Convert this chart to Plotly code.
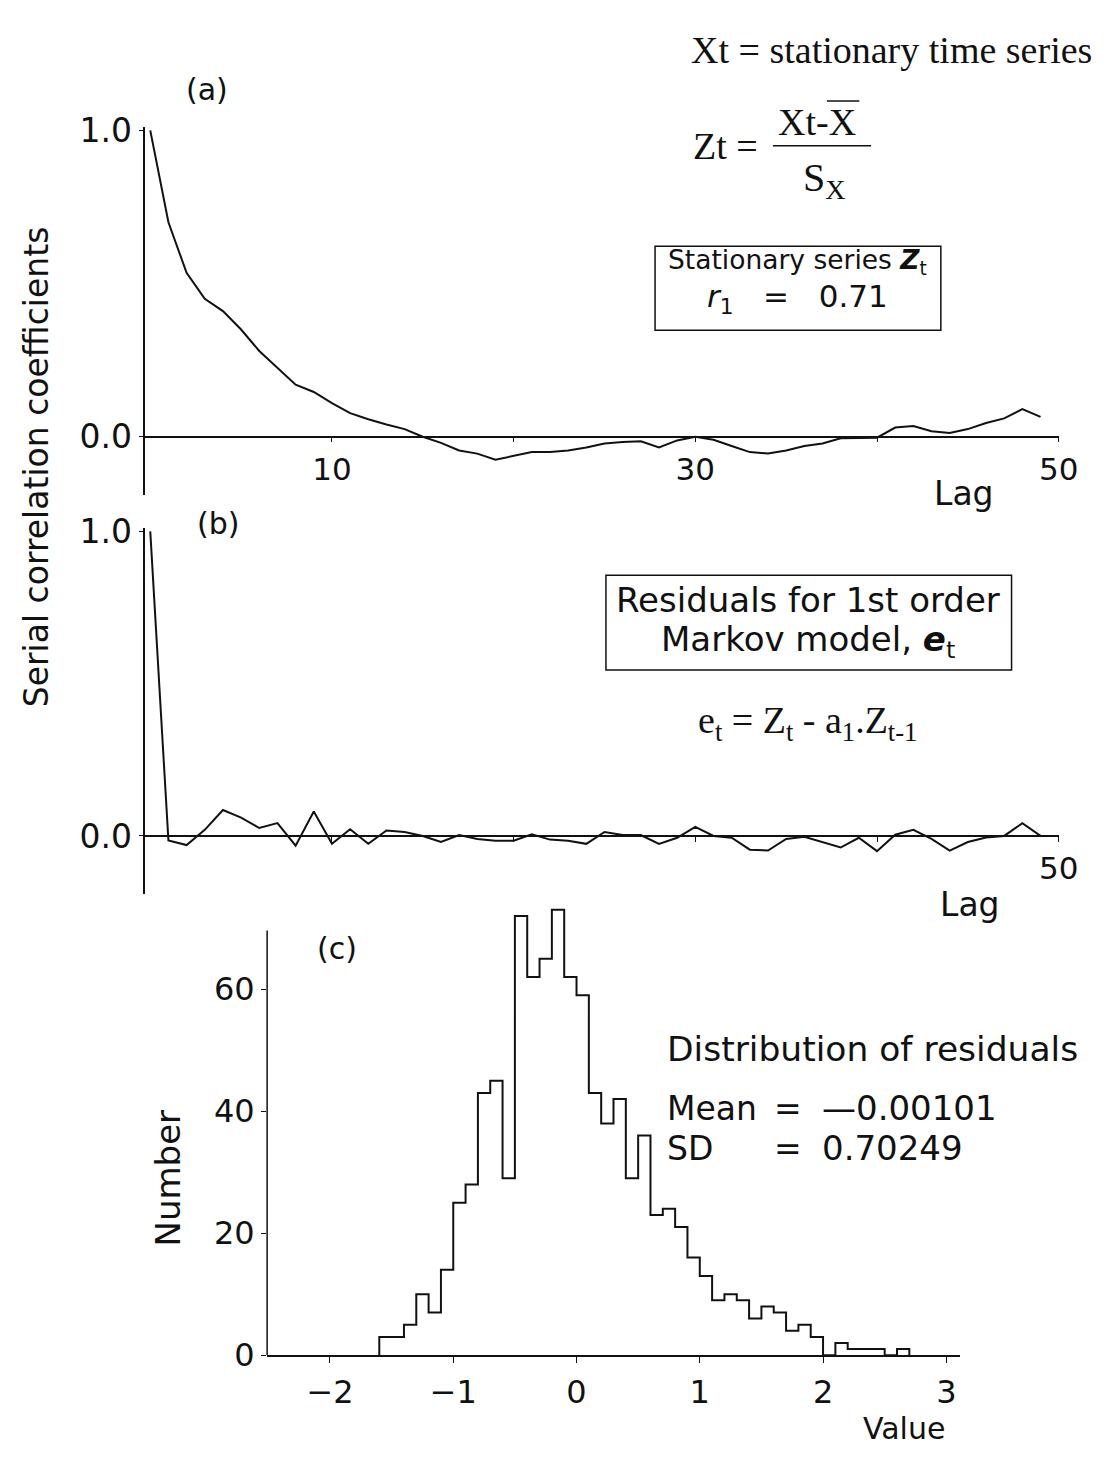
import plotly.graph_objects as go

W, H = 1117, 1464

# ---------------- data ----------------
lags = list(range(50))
acf_zt = [1.0, 0.70, 0.535, 0.45, 0.41, 0.35, 0.28, 0.225, 0.17, 0.146,
          0.11, 0.077, 0.057, 0.04, 0.025, 0.0, -0.02, -0.045, -0.055, -0.075,
          -0.063, -0.05, -0.05, -0.045, -0.035, -0.022, -0.017, -0.015, -0.035, -0.012,
          0.0, -0.01, -0.03, -0.05, -0.055, -0.045, -0.03, -0.022, -0.005, -0.005,
          -0.003, 0.03, 0.035, 0.018, 0.012, 0.025, 0.045, 0.06, 0.09, 0.065]
acf_et = [1.0, -0.015, -0.03, 0.02, 0.085, 0.06, 0.026, 0.042, -0.032, 0.08,
          -0.026, 0.022, -0.026, 0.018, 0.013, 0.0, -0.02, 0.003, -0.01, -0.016,
          -0.016, 0.005, -0.012, -0.016, -0.026, 0.013, 0.003, 0.003, -0.026, -0.006,
          0.03, 0.0, -0.006, -0.045, -0.048, -0.01, -0.003, -0.02, -0.038, -0.006,
          -0.05, 0.004, 0.02, -0.01, -0.048, -0.02, -0.005, 0.0, 0.042, 0.0]

bin_start = -1.6
bin_width = 0.1
counts = [3, 3, 5, 10, 7, 14, 25, 28, 43, 45,
          29, 72, 62, 65, 73, 62, 59, 43, 38, 42,
          29, 36, 23, 24, 21, 16, 13, 9, 10, 9,
          6, 8, 7, 4, 5, 3, 0, 2, 1, 1,
          1, 0, 1]

lag_ticks = [10, 20, 30, 40, 50]
lag_labels_a = ["10", "", "30", "", "50"]
lag_labels_b = ["", "", "", "", "50"]
r_ticks = [0, 1]
r_labels = ["0.0", "1.0"]
val_ticks = [-2, -1, 0, 1, 2, 3]
num_ticks = [0, 20, 40, 60]

# ---------------- helpers ----------------
def px(x):
    return x / W

def py(y):
    return 1 - y / H

SANS = "DejaVu Sans"
SERIF = "Liberation Serif"
BLACK = "#111111"

# histogram as a step outline
edges = [round(bin_start + i * bin_width, 3) for i in range(len(counts) + 1)]
hx = [edges[0]] + edges[:-1] + [edges[-1], edges[-1]]
hy = [0] + counts + [counts[-1], 0]

fig = go.Figure()
fig.add_trace(go.Scatter(x=lags, y=acf_zt, mode="lines", line=dict(color=BLACK, width=2),
                         xaxis="x", yaxis="y", hoverinfo="skip"))
fig.add_trace(go.Scatter(x=lags, y=acf_et, mode="lines", line=dict(color=BLACK, width=2),
                         xaxis="x2", yaxis="y2", hoverinfo="skip"))
fig.add_trace(go.Scatter(x=hx, y=hy, mode="lines", line=dict(color=BLACK, width=2, shape="hv"),
                         xaxis="x3", yaxis="y3", hoverinfo="skip"))

common_x = dict(showgrid=False, zeroline=False, showline=True, linecolor=BLACK, linewidth=1.5,
                ticks="outside", ticklen=5, tickcolor=BLACK, tickfont=dict(family=SANS, size=31, color=BLACK))
common_y = dict(showgrid=False, zeroline=False, showline=True, linecolor=BLACK, linewidth=1.5,
                ticks="outside", ticklen=5, tickcolor=BLACK, tickfont=dict(family=SANS, size=33, color=BLACK))

fig.update_layout(
    width=W, height=H, margin=dict(l=0, r=0, t=0, b=0),
    paper_bgcolor="white", plot_bgcolor="white", showlegend=False,
    xaxis=dict(common_x, domain=[px(148), px(1078)], range=[-0.27, 50.0], anchor="free",
               position=py(431), tickvals=lag_ticks, ticktext=lag_labels_a, ticklabelstandoff=0),
    yaxis=dict(common_y, domain=[py(490.7), py(114)], range=[-0.19, 1.01], anchor="x",
               tickvals=r_ticks, ticktext=r_labels),
    xaxis2=dict(common_x, domain=[px(148), px(1078)], range=[-0.27, 50.0], anchor="free",
                position=py(840), tickvals=lag_ticks, ticktext=lag_labels_b, ticklabelstandoff=0),
    yaxis2=dict(common_y, domain=[py(899.3), py(524.9)], range=[-0.19, 1.01], anchor="x2",
                tickvals=r_ticks, ticktext=r_labels),
    xaxis3=dict(common_x, domain=[px(272), px(978)], range=[-2.51, 3.115], anchor="y3",
                tickvals=val_ticks, ticklabelstandoff=2, ticklen=6,
                tickfont=dict(family=SANS, size=32, color=BLACK)),
    yaxis3=dict(common_y, domain=[py(1372), py(909.5)], range=[0, 74], anchor="x3", showline=False,
                tickvals=num_ticks, tickfont=dict(family=SANS, size=32, color=BLACK)),
)

shapes = []
# y-axis line for histogram (stops at ~70)
shapes.append(dict(type="line", xref="x3 domain", yref="y3", x0=0, x1=0, y0=0, y1=69.6,
                   line=dict(color=BLACK, width=1.5)))
# boxes
shapes.append(dict(type="rect", xref="paper", yref="paper", x0=px(667), x1=px(958), y0=py(322), y1=py(236),
                   line=dict(color=BLACK, width=1.5)))
shapes.append(dict(type="rect", xref="paper", yref="paper", x0=px(617), x1=px(1030), y0=py(670), y1=py(573),
                   line=dict(color=BLACK, width=1.5)))
# fraction bar and overline in Zt formula
shapes.append(dict(type="line", xref="paper", yref="paper", x0=px(787), x1=px(887), y0=py(133), y1=py(133),
                   line=dict(color=BLACK, width=1.5)))
shapes.append(dict(type="line", xref="paper", yref="paper", x0=px(842), x1=px(875), y0=py(87), y1=py(87),
                   line=dict(color=BLACK, width=1.5)))
fig.update_layout(shapes=shapes)

NB = "\u00a0"
ann = []
def text(x, y, s, size=32, family=SANS, xanchor="center", angle=0):
    ann.append(dict(x=px(x), y=py(y), xref="paper", yref="paper", text=s, showarrow=False,
                    xanchor=xanchor, yanchor="middle", textangle=angle, borderpad=0,
                    font=dict(family=family, size=size, color=BLACK)))

text(703, 35, "Xt = stationary time series", size=38, family=SERIF, xanchor="left")
text(211, 75, "(a)", size=30)
text(705, 133, "Zt =", size=38, family=SERIF, xanchor="left")
text(832, 109, "Xt-X", size=38, family=SERIF)
text(839, 168, "S<sub>X</sub>", size=40, family=SERIF)
text(812, 252, "Stationary series <b><i>Z</i></b><sub>t</sub>", size=26.5)
text(812, 289, "<i>r</i><sub>1</sub>" + NB * 3 + "=" + NB * 3 + "0.71", size=31)
text(38, 462, "Serial correlation coefficients", size=33, angle=-90)
text(982, 489, "Lag", size=33)
text(222, 520, "(b)", size=30)
text(823, 598, "Residuals for 1st order", size=34)
text(823, 641, "Markov model, <b><i>e</i></b><sub>t</sub>", size=34)
text(822, 724, "e<sub>t</sub>" + NB + "=" + NB + "Z<sub>t</sub>" + NB + "-" + NB + "a<sub>1</sub>.Z<sub>t-1</sub>",
     size=38, family=SERIF)
text(988, 910, "Lag", size=33)
text(343, 955, "(c)", size=30)
text(678, 1058, "Distribution of residuals", size=34.5, xanchor="left")
text(678, 1119, "Mean", size=33, xanchor="left")
text(802, 1119, "=", size=33)
text(836, 1119, "\u20140.00101", size=34, xanchor="left")
text(678, 1160, "SD", size=33, xanchor="left")
text(802, 1160, "=", size=33)
text(836, 1160, "0.70249", size=34, xanchor="left")
text(171, 1190, "Number", size=34, angle=-90)
text(920, 1447, "Value", size=30)
fig.update_layout(annotations=ann)

fig.write_html("out.html")
